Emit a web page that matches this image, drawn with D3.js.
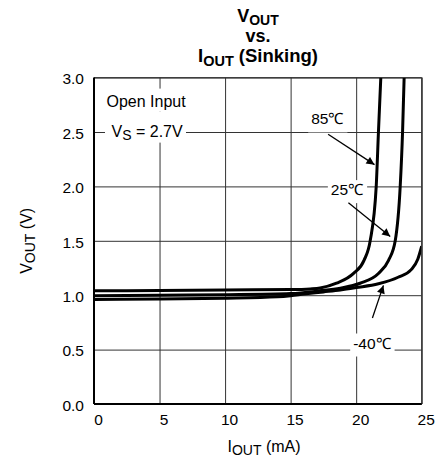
<!DOCTYPE html>
<html>
<head>
<meta charset="utf-8">
<script src="https://cdn.jsdelivr.net/npm/d3@7"></script>
<style>
  body { margin: 0; background: #fff; }
  text { font-family: Arial, "Liberation Sans", sans-serif; fill: #000; }
</style>
</head>
<body>
<svg width="439" height="460"></svg>
<script>
// curve data: [I_OUT mA, V_OUT V]
const curve85 = [[0, 1.04], [5, 1.044], [10, 1.048], [15, 1.052], [16.5, 1.058], [17.25, 1.066],
    [18.5, 1.11], [19.8, 1.2], [20.6, 1.32], [21.07, 1.5], [21.53, 2.0], [21.7, 2.5], [21.88, 3.0]]
const curve25 = [[0, 0.995], [5, 1.0], [10, 1.005], [15, 1.015], [17.2, 1.04], [18.8, 1.065],
    [20.3, 1.11], [21.7, 1.2], [22.47, 1.32], [22.98, 1.5], [23.36, 2.0], [23.54, 2.5], [23.66, 3.0]]
const curveM40 = [[0, 0.96], [5, 0.965], [10, 0.972], [14, 0.985], [15, 0.995], [16, 1.01],
    [17.5, 1.03], [18.8, 1.048], [20, 1.07], [21.7, 1.105], [23.2, 1.165], [24.2, 1.235],
    [24.7, 1.33], [25, 1.45]]
const curves = [curve85, curve25, curveM40]

const xTicks = [0, 5, 10, 15, 20, 25]
const yTicks = [0, 0.5, 1.0, 1.5, 2.0, 2.5, 3.0]

// labels: text, label point, arrow from, arrow to (data units)
const labels = [
    { text: "85℃", at: [17.8, 2.57], from: [17.86, 2.48], to: [21.4, 2.2] },
    { text: "25℃", at: [19.3, 1.92], from: [19.41, 1.85], to: [22.6, 1.54] },
    { text: "-40℃", at: [21.2, 0.51], from: [21.24, 0.79], to: [22.08, 1.09] }
]

const margin = { top: 77.6, right: 17.3, bottom: 56, left: 94 },
    width = 439 - margin.left - margin.right,
    height = 460 - margin.top - margin.bottom

const svg = d3.select("svg")
const g = svg.append("g").attr("transform", `translate(${margin.left},${margin.top})`)

const xScale = d3.scaleLinear().domain([0, 25]).range([0, width])
const yScale = d3.scaleLinear().domain([0, 3]).range([height, 0])

// grid via axes
const xAxis = g.append("g")
    .attr("transform", `translate(0,${height})`)
    .call(d3.axisBottom(xScale).tickValues(xTicks).tickSize(-height).tickPadding(10).tickFormat(d3.format("d")))
xAxis.select(".domain").remove()
xAxis.selectAll("line").attr("stroke", "#333").attr("stroke-width", 1)
xAxis.selectAll("text").attr("dx", 4).style("font-size", "15.5px").attr("fill", "#000")

const yAxis = g.append("g")
    .call(d3.axisLeft(yScale).tickValues(yTicks).tickSize(-width).tickPadding(10).tickFormat(d3.format(".1f")))
yAxis.select(".domain").remove()
yAxis.selectAll("line").attr("stroke", "#333").attr("stroke-width", 1)
yAxis.selectAll("text").attr("dy", "0.4em").style("font-size", "15.5px").attr("fill", "#000")

// white boxes behind in-plot texts
const note = g.append("g")
note.append("rect").attr("x", 10).attr("y", 11).attr("width", 88).attr("height", 23).attr("fill", "#fff")
note.append("rect").attr("x", 11).attr("y", 34).attr("width", 81).attr("height", 31).attr("fill", "#fff")
note.append("text").attr("x", 12.5).attr("y", 29).style("font-size", "16px").text("Open Input")
const vs = note.append("text").attr("x", 17.5).attr("y", 59.5).style("font-size", "16px")
vs.append("tspan").text("V")
vs.append("tspan").attr("dy", 2.5).style("font-size", "14px").text("S")
vs.append("tspan").attr("dy", -2.5).text(" = 2.7V")

g.append("clipPath").attr("id", "plotClip")
    .append("rect").attr("width", width).attr("height", height)

const line = d3.line()
    .x(d => xScale(d[0]))
    .y(d => yScale(d[1]))
    .curve(d3.curveMonotoneX)

g.append("g").attr("clip-path", "url(#plotClip)")
    .selectAll("path")
    .data(curves)
    .join("path")
    .attr("d", line)
    .attr("fill", "none")
    .attr("stroke", "#000")
    .attr("stroke-width", 3)

// frame
g.append("line").attr("x1", 0).attr("x2", width).attr("y1", 0).attr("y2", 0).attr("stroke", "#333").attr("stroke-width", 1)
g.append("line").attr("x1", width).attr("x2", width).attr("y1", 0).attr("y2", height).attr("stroke", "#333").attr("stroke-width", 1.2)
g.append("line").attr("x1", 0).attr("x2", 0).attr("y1", 0).attr("y2", height).attr("stroke", "#000").attr("stroke-width", 2)
g.append("line").attr("x1", 0).attr("x2", width).attr("y1", height).attr("y2", height).attr("stroke", "#000").attr("stroke-width", 2)

// arrow head
svg.append("defs").append("marker")
    .attr("id", "head")
    .attr("viewBox", "0 0 10 10")
    .attr("refX", 10).attr("refY", 5)
    .attr("markerWidth", 10).attr("markerHeight", 8)
    .attr("markerUnits", "userSpaceOnUse")
    .attr("orient", "auto")
    .append("path").attr("d", "M0,0L10,5L0,10Z").attr("fill", "#000")

const ann = g.append("g")
labels.forEach(l => {
    const t = ann.append("text")
        .attr("x", xScale(l.at[0]))
        .attr("y", yScale(l.at[1]))
        .attr("text-anchor", "middle")
        .style("font-size", "15.5px")
        .text(l.text)
    const bb = t.node().getBBox()
    ann.insert("rect", "text")
        .attr("x", bb.x - 3).attr("y", bb.y - 1)
        .attr("width", bb.width + 6).attr("height", bb.height + 6)
        .attr("fill", "#fff")
    ann.append("line")
        .attr("x1", xScale(l.from[0])).attr("y1", yScale(l.from[1]))
        .attr("x2", xScale(l.to[0])).attr("y2", yScale(l.to[1]))
        .attr("stroke", "#000").attr("stroke-width", 1.3)
        .attr("marker-end", "url(#head)")
})

// title
const title = svg.append("g").attr("text-anchor", "middle").style("font-weight", "bold")
const t1 = title.append("text").attr("x", 258).attr("y", 22).style("font-size", "18px")
t1.append("tspan").text("V")
t1.append("tspan").attr("dy", 3).style("font-size", "14px").text("OUT")
title.append("text").attr("x", 258).attr("y", 42).style("font-size", "18px").text("vs.")
const t3 = title.append("text").attr("x", 258).attr("y", 62).style("font-size", "18.5px")
t3.append("tspan").text("I")
t3.append("tspan").attr("dy", 4).style("font-size", "14.5px").text("OUT")
t3.append("tspan").attr("dy", -4).text(" (Sinking)")

// axis labels
const xl = svg.append("text").attr("x", 264).attr("y", 452).attr("text-anchor", "middle").style("font-size", "16px")
xl.append("tspan").text("I")
xl.append("tspan").attr("dy", 3).style("font-size", "14px").text("OUT")
xl.append("tspan").attr("dy", -3).text(" (mA)")

const yl = svg.append("text")
    .attr("transform", `translate(32,${margin.top + height / 2}) rotate(-90)`)
    .attr("text-anchor", "middle").style("font-size", "16px")
yl.append("tspan").text("V")
yl.append("tspan").attr("dy", 3).style("font-size", "14px").text("OUT")
yl.append("tspan").attr("dy", -3).text(" (V)")
</script>
</body>
</html>
